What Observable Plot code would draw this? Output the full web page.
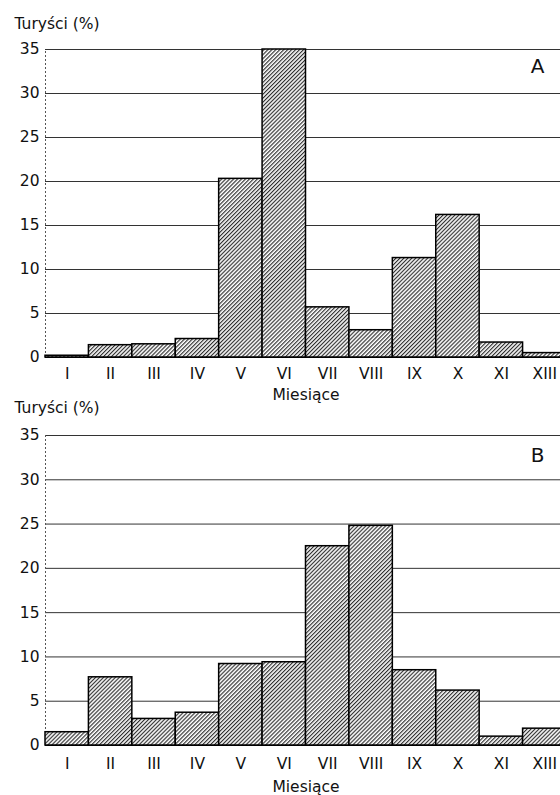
<!DOCTYPE html>
<html>
<head>
<meta charset="utf-8">
<script src="https://cdn.jsdelivr.net/npm/d3@7"></script>
<script src="https://cdn.jsdelivr.net/npm/@observablehq/plot@0.6"></script>
<style>
  html, body { margin: 0; padding: 0; background: #fff; overflow: hidden; width: 560px; height: 795px; }
  #wrap { position: relative; width: 560px; height: 795px; }
  #wrap svg { position: absolute; left: 0; overflow: visible; background: transparent; }
</style>
</head>
<body>
<div id="wrap"></div>
<script>
const months = ["I","II","III","IV","V","VI","VII","VIII","IX","X","XI","XIII"];
const valuesA = [0.2, 1.4, 1.5, 2.1, 20.3, 35.0, 5.7, 3.1, 11.3, 16.2, 1.7, 0.5];
const valuesB = [1.5, 7.7, 3.0, 3.7, 9.2, 9.4, 22.5, 24.8, 8.5, 6.2, 1.0, 1.9];
const yTicks = [0, 5, 10, 15, 20, 25, 30, 35];
const yLabel = "Turyści (%)";
const xLabel = "Miesiące";

const FONT = "'DejaVu Sans', 'Liberation Sans', Arial, sans-serif";
const FS = 15.5;

function panel(values, letter, opts) {
  const data = months.map((m, i) => ({i, m, v: values[i]}));
  const pid = "hatch" + letter;
  const svg = Plot.plot({
    width: 560,
    height: opts.height,
    marginLeft: 45,
    marginRight: -6,
    marginTop: opts.marginTop,
    marginBottom: opts.marginBottom,
    style: {fontFamily: FONT, fontSize: FS + "px", color: "#111", background: "transparent", overflow: "visible"},
    x: {domain: [0, months.length]},
    y: {domain: [0, 35]},
    marks: [
      Plot.gridY(yTicks, {stroke: "#333", strokeOpacity: 1, strokeWidth: 1}),
      Plot.ruleX([0], {y1: 0, y2: 35, stroke: "#555", strokeDasharray: "2,2", strokeWidth: 1}),
      Plot.rectY(data, {x1: "i", x2: d => d.i + 1, y: "v", fill: `url(#${pid})`, stroke: "#000", strokeWidth: 1.5}),
      Plot.ruleY([0], {stroke: "#000", strokeWidth: 1.2}),
      Plot.axisY({ticks: yTicks, tickSize: 0, tickPadding: 6, label: null, fontSize: FS}),
      Plot.axisX({ticks: d3.range(months.length).map(i => i + 0.5), tickFormat: t => months[Math.floor(t)],
                  tickSize: 0, tickPadding: opts.xPad, label: null, fontSize: FS}),
      Plot.text([yLabel], {frameAnchor: "top-left", text: d => d, textAnchor: "start", lineAnchor: "middle",
                  dx: -31, dy: opts.yLabelDy, fontSize: FS, fill: "#111"}),
      Plot.text([xLabel], {frameAnchor: "bottom", text: d => d, textAnchor: "middle", lineAnchor: "middle",
                  dy: opts.xLabelDy, fontSize: FS, fill: "#111"}),
      Plot.text([letter], {frameAnchor: "top-right", text: d => d, textAnchor: "middle", lineAnchor: "middle",
                  dx: -29, dy: opts.letterDy, fontSize: 20, fill: "#111"})
    ]
  });
  svg.insertAdjacentHTML("afterbegin",
    `<defs><pattern id="${pid}" patternUnits="userSpaceOnUse" width="2.8" height="2.8" patternTransform="rotate(45)">
       <rect width="2.8" height="2.8" fill="#fff"></rect>
       <line x1="0.6" y1="0" x2="0.6" y2="2.8" stroke="#222" stroke-width="1.1"></line>
     </pattern></defs>`);
  svg.style.top = opts.top + "px";
  return svg;
}

const wrap = document.getElementById("wrap");
wrap.appendChild(panel(valuesA, "A", {top: 0, height: 405, marginTop: 49, marginBottom: 48, xPad: 10, yLabelDy: -25, xLabelDy: 38, letterDy: 17}));
wrap.appendChild(panel(valuesB, "B", {top: 400, height: 395, marginTop: 35, marginBottom: 50, xPad: 12, yLabelDy: -27, xLabelDy: 42, letterDy: 20}));
</script>
</body>
</html>
